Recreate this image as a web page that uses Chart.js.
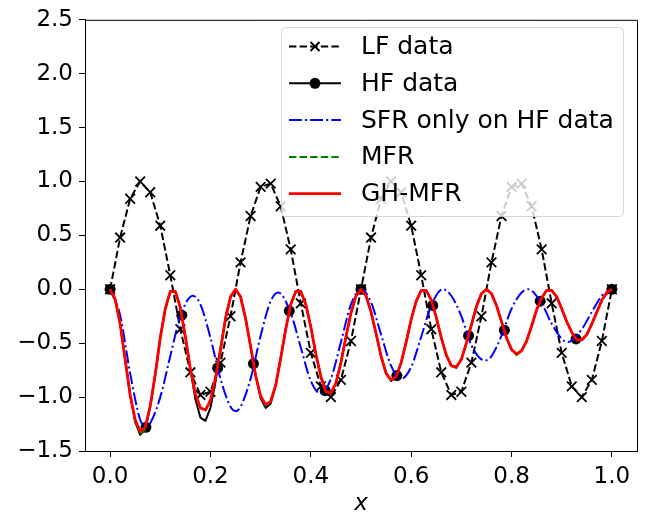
<!DOCTYPE html>
<html>
<head>
<meta charset="utf-8">
<script src="https://cdn.jsdelivr.net/npm/chart.js@4.4.1/dist/chart.umd.min.js"></script>
<style>
  html, body { margin: 0; padding: 0; background: #fff; }
  #wrap { width: 649px; height: 517px; }
</style>
</head>
<body>
<div id="wrap"><canvas id="chart" width="649" height="517"></canvas></div>
<script>
'use strict';

/* ── Data ── */
const seriesNames = ['LF data', 'HF data', 'SFR only on HF data', 'MFR', 'GH-MFR'];

const xTicks = [0, 0.2, 0.4, 0.6, 0.8, 1.0];
const yTicks = [-1.5, -1.0, -0.5, 0, 0.5, 1.0, 1.5, 2.0, 2.5];

// dense grid used by the HF reference curve and both model predictions
const gridX = [
  0, 0.01, 0.02, 0.03, 0.04, 0.05, 0.06, 0.07, 0.08, 0.09,
  0.10, 0.11, 0.12, 0.13, 0.14, 0.15, 0.16, 0.17, 0.18, 0.19,
  0.20, 0.21, 0.22, 0.23, 0.24, 0.25, 0.26, 0.27, 0.28, 0.29,
  0.30, 0.31, 0.32, 0.33, 0.34, 0.35, 0.36, 0.37, 0.38, 0.39,
  0.40, 0.41, 0.42, 0.43, 0.44, 0.45, 0.46, 0.47, 0.48, 0.49,
  0.50, 0.51, 0.52, 0.53, 0.54, 0.55, 0.56, 0.57, 0.58, 0.59,
  0.60, 0.61, 0.62, 0.63, 0.64, 0.65, 0.66, 0.67, 0.68, 0.69,
  0.70, 0.71, 0.72, 0.73, 0.74, 0.75, 0.76, 0.77, 0.78, 0.79,
  0.80, 0.81, 0.82, 0.83, 0.84, 0.85, 0.86, 0.87, 0.88, 0.89,
  0.90, 0.91, 0.92, 0.93, 0.94, 0.95, 0.96, 0.97, 0.98, 0.99,
  1.00
];

const hfCurve = [
  0, -0.09, -0.32, -0.65, -0.98, -1.23, -1.35, -1.30, -1.09, -0.79,
  -0.45, -0.18, -0.02, -0.02, -0.17, -0.44, -0.74, -1.02, -1.19, -1.22,
  -1.10, -0.86, -0.56, -0.27, -0.07, 0, -0.07, -0.27, -0.53, -0.80,
  -1.01, -1.10, -1.06, -0.89, -0.64, -0.37, -0.14, -0.02, -0.02, -0.14,
  -0.35, -0.60, -0.81, -0.95, -0.97, -0.87, -0.68, -0.44, -0.22, -0.06,
  0, -0.06, -0.21, -0.41, -0.62, -0.78, -0.85, -0.81, -0.68, -0.49,
  -0.28, -0.11, -0.01, -0.01, -0.10, -0.26, -0.45, -0.61, -0.71, -0.72,
  -0.65, -0.50, -0.33, -0.16, -0.04, 0, -0.04, -0.15, -0.30, -0.45,
  -0.56, -0.60, -0.57, -0.48, -0.34, -0.19, -0.08, -0.01, -0.01, -0.07,
  -0.18, -0.30, -0.40, -0.47, -0.47, -0.42, -0.32, -0.21, -0.10, -0.03,
  0
];

const mfrPred = [
  0, -0.09, -0.32, -0.65, -0.98, -1.22, -1.34, -1.30, -1.08, -0.79,
  -0.45, -0.18, -0.02, -0.02, -0.17, -0.44, -0.74, -0.97, -1.10, -1.12,
  -1.03, -0.82, -0.56, -0.27, -0.07, 0, -0.07, -0.27, -0.53, -0.80,
  -0.99, -1.08, -1.04, -0.89, -0.64, -0.37, -0.14, -0.02, -0.02, -0.14,
  -0.35, -0.60, -0.81, -0.95, -0.96, -0.87, -0.68, -0.44, -0.22, -0.06,
  0, -0.06, -0.21, -0.41, -0.62, -0.78, -0.84, -0.81, -0.68, -0.49,
  -0.28, -0.11, -0.01, -0.01, -0.10, -0.26, -0.45, -0.61, -0.71, -0.73,
  -0.65, -0.50, -0.33, -0.16, -0.04, 0, -0.04, -0.15, -0.30, -0.45,
  -0.56, -0.61, -0.57, -0.48, -0.34, -0.19, -0.08, -0.01, -0.01, -0.07,
  -0.18, -0.30, -0.40, -0.47, -0.47, -0.42, -0.32, -0.21, -0.10, -0.03,
  0
];

const ghmfrPred = [
  0, -0.09, -0.32, -0.65, -0.98, -1.21, -1.32, -1.28, -1.08, -0.79,
  -0.45, -0.18, -0.02, -0.02, -0.17, -0.44, -0.74, -0.97, -1.10, -1.12,
  -1.03, -0.82, -0.56, -0.27, -0.07, 0, -0.07, -0.27, -0.53, -0.80,
  -0.99, -1.07, -1.04, -0.89, -0.64, -0.37, -0.14, -0.02, -0.02, -0.14,
  -0.35, -0.60, -0.81, -0.95, -0.96, -0.87, -0.68, -0.44, -0.22, -0.06,
  0, -0.06, -0.21, -0.41, -0.62, -0.78, -0.84, -0.81, -0.68, -0.49,
  -0.28, -0.11, -0.01, -0.01, -0.10, -0.26, -0.45, -0.61, -0.71, -0.72,
  -0.65, -0.50, -0.33, -0.16, -0.04, 0, -0.04, -0.15, -0.30, -0.45,
  -0.56, -0.60, -0.57, -0.48, -0.34, -0.19, -0.08, -0.01, -0.01, -0.07,
  -0.18, -0.30, -0.40, -0.47, -0.47, -0.42, -0.32, -0.21, -0.10, -0.03,
  0
];

const lfX = [
  0, 0.02, 0.04, 0.06, 0.08, 0.10, 0.12, 0.14, 0.16, 0.18,
  0.20, 0.22, 0.24, 0.26, 0.28, 0.30, 0.32, 0.34, 0.36, 0.38,
  0.40, 0.42, 0.44, 0.46, 0.48, 0.50, 0.52, 0.54, 0.56, 0.58,
  0.60, 0.62, 0.64, 0.66, 0.68, 0.70, 0.72, 0.74, 0.76, 0.78,
  0.80, 0.82, 0.84, 0.86, 0.88, 0.90, 0.92, 0.94, 0.96, 0.98,
  1.00
];
const lfY = [
  0, 0.48, 0.84, 1.00, 0.90, 0.59, 0.13, -0.37, -0.77, -0.98,
  -0.95, -0.68, -0.25, 0.25, 0.68, 0.95, 0.98, 0.77, 0.37, -0.13,
  -0.59, -0.90, -1.00, -0.84, -0.48, 0, 0.48, 0.84, 1.00, 0.90,
  0.59, 0.13, -0.37, -0.77, -0.98, -0.95, -0.68, -0.25, 0.25, 0.68,
  0.95, 0.98, 0.77, 0.37, -0.13, -0.59, -0.90, -1.00, -0.84, -0.48,
  0
];

const hfX = [0, 0.0714, 0.1429, 0.2143, 0.2857, 0.3571, 0.4286, 0.5, 0.5714, 0.6429, 0.7143, 0.7857, 0.8571, 0.9286, 1.0];
const hfY = [0, -1.28, -0.24, -0.73, -0.69, -0.20, -0.94, 0, -0.80, -0.15, -0.43, -0.38, -0.11, -0.46, 0];

const sfrX = [
  0, 0.02, 0.04, 0.06, 0.07, 0.08, 0.10, 0.12, 0.14, 0.165,
  0.18, 0.20, 0.22, 0.24, 0.25, 0.26, 0.28, 0.30, 0.32, 0.335,
  0.36, 0.38, 0.40, 0.42, 0.44, 0.46, 0.48, 0.50, 0.52, 0.54,
  0.56, 0.58, 0.60, 0.62, 0.64, 0.663, 0.68, 0.70, 0.72, 0.747,
  0.76, 0.78, 0.80, 0.82, 0.833, 0.86, 0.88, 0.90, 0.912, 0.94,
  0.96, 0.98, 1.0
];
const sfrY = [
  0, -0.24, -0.78, -1.21, -1.27, -1.24, -1.00, -0.62, -0.25, -0.06,
  -0.14, -0.45, -0.83, -1.09, -1.13, -1.09, -0.83, -0.43, -0.11, -0.03,
  -0.22, -0.54, -0.85, -0.97, -0.83, -0.49, -0.14, 0, -0.12, -0.42,
  -0.71, -0.83, -0.72, -0.44, -0.15, 0, -0.06, -0.25, -0.52, -0.66,
  -0.62, -0.43, -0.18, -0.03, 0, -0.13, -0.32, -0.46, -0.49, -0.37,
  -0.21, -0.06, 0
];

/* ── Helpers ── */
const FONT = '"DejaVu Sans", "Liberation Sans", sans-serif';
const FONT_SIZE = 23;
const LEGEND_FONT_SIZE = 25;
const pts = (xs, ys) => xs.map((x, i) => ({ x, y: ys[i] }));
const fmt = v => (v < 0 ? '\u2212' : '') + Math.abs(v).toFixed(1);

const DASH = [7.4, 3.2];
const DASH_DOT = [12.8, 3.2, 2, 3.2];

/* ── Frame, in-axes legend, x label ── */
const decorations = {
  id: 'decorations',
  afterDraw(chart) {
    const { ctx, chartArea: a } = chart;
    ctx.save();

    // top + right spines
    ctx.strokeStyle = '#000';
    ctx.lineWidth = 1;
    ctx.beginPath();
    ctx.moveTo(a.left, a.top + 0.5);
    ctx.lineTo(a.right + 0.5, a.top + 0.5);
    ctx.lineTo(a.right + 0.5, a.bottom);
    ctx.stroke();

    // legend box
    const bx = 281.5, by = 27.5, bw = 342, bh = 189;
    ctx.beginPath();
    ctx.roundRect(bx, by, bw, bh, 4);
    ctx.fillStyle = 'rgba(255,255,255,0.8)';
    ctx.fill();
    ctx.strokeStyle = 'rgba(204,204,204,0.8)';
    ctx.stroke();

    const styles = [
      { color: '#000', dash: DASH, marker: 'x' },
      { color: '#000', dash: [], marker: 'o' },
      { color: '#0000ff', dash: DASH_DOT },
      { color: '#008000', dash: DASH },
      { color: '#ff0000', dash: [], width: 2.8 }
    ];
    ctx.font = `${LEGEND_FONT_SIZE}px ${FONT}`;
    ctx.textBaseline = 'middle';
    seriesNames.forEach((name, i) => {
      const s = styles[i];
      const y = 46.5 + i * 36.8;
      ctx.strokeStyle = s.color;
      ctx.lineWidth = s.width || 2;
      ctx.setLineDash(s.dash);
      ctx.beginPath();
      ctx.moveTo(289, y);
      ctx.lineTo(341, y);
      ctx.stroke();
      ctx.setLineDash([]);
      if (s.marker === 'x') {
        ctx.lineWidth = 1.8;
        ctx.beginPath();
        ctx.moveTo(310.5, y - 4.5); ctx.lineTo(319.5, y + 4.5);
        ctx.moveTo(310.5, y + 4.5); ctx.lineTo(319.5, y - 4.5);
        ctx.stroke();
      } else if (s.marker === 'o') {
        ctx.fillStyle = '#000';
        ctx.beginPath();
        ctx.arc(315, y, 5.5, 0, Math.PI * 2);
        ctx.fill();
      }
      ctx.fillStyle = '#000';
      ctx.fillText(name, 361, y + 1);
    });

    // x axis label
    ctx.font = `italic ${FONT_SIZE}px ${FONT}`;
    ctx.textAlign = 'center';
    ctx.fillText('x', (a.left + a.right) / 2, 504);
    ctx.restore();
  }
};

/* ── Chart ── */
const axisCommon = {
  type: 'linear',
  ticks: { font: { family: FONT, size: FONT_SIZE }, color: '#000', padding: 6, autoSkip: false, maxRotation: 0, callback: fmt },
  grid: { drawOnChartArea: false, drawTicks: true, tickLength: 6, color: '#000', lineWidth: 1 },
  border: { display: true, color: '#000', width: 1 }
};

new Chart(document.getElementById('chart'), {
  type: 'scatter',
  data: {
    datasets: [
      {
        label: seriesNames[4], data: pts(gridX, ghmfrPred), showLine: true,
        borderColor: '#ff0000', borderWidth: 2.8, pointRadius: 0, order: 0,
        borderJoinStyle: 'round'
      },
      {
        label: seriesNames[3], data: pts(gridX, mfrPred), showLine: true,
        borderColor: '#008000', borderWidth: 2, borderDash: DASH, pointRadius: 0, order: 1
      },
      {
        label: seriesNames[2], data: pts(sfrX, sfrY), showLine: true,
        borderColor: '#0000ff', borderWidth: 2, borderDash: DASH_DOT, pointRadius: 0,
        cubicInterpolationMode: 'monotone', order: 2
      },
      {
        label: seriesNames[1], data: pts(hfX, hfY), showLine: false,
        pointStyle: 'circle', pointRadius: 5.5, pointBackgroundColor: '#000',
        pointBorderWidth: 0, order: 3
      },
      {
        label: seriesNames[1] + ' curve', data: pts(gridX, hfCurve), showLine: true,
        borderColor: '#000', borderWidth: 2, pointRadius: 0, order: 4,
        borderJoinStyle: 'round'
      },
      {
        label: seriesNames[0], data: pts(lfX, lfY), showLine: true,
        borderColor: '#000', borderWidth: 2, borderDash: DASH,
        pointStyle: 'crossRot', pointRadius: 6.8, pointBorderWidth: 1.8,
        pointBorderColor: '#000', pointBackgroundColor: '#000', order: 5
      }
    ]
  },
  options: {
    responsive: false,
    animation: false,
    devicePixelRatio: 1,
    layout: { padding: { top: 14, right: 12, left: 0, bottom: 0 } },
    plugins: { legend: { display: false }, tooltip: { enabled: false } },
    scales: {
      x: {
        ...axisCommon, min: -0.05, max: 1.05,
        afterBuildTicks: s => { s.ticks = xTicks.map(v => ({ value: v })); },
        afterFit: s => { s.height = 66; }
      },
      y: {
        ...axisCommon, min: -1.5, max: 2.5,
        afterBuildTicks: s => { s.ticks = yTicks.map(v => ({ value: v })); },
        afterFit: s => { s.width = 85; }
      }
    }
  },
  plugins: [decorations]
});
</script>
</body>
</html>
